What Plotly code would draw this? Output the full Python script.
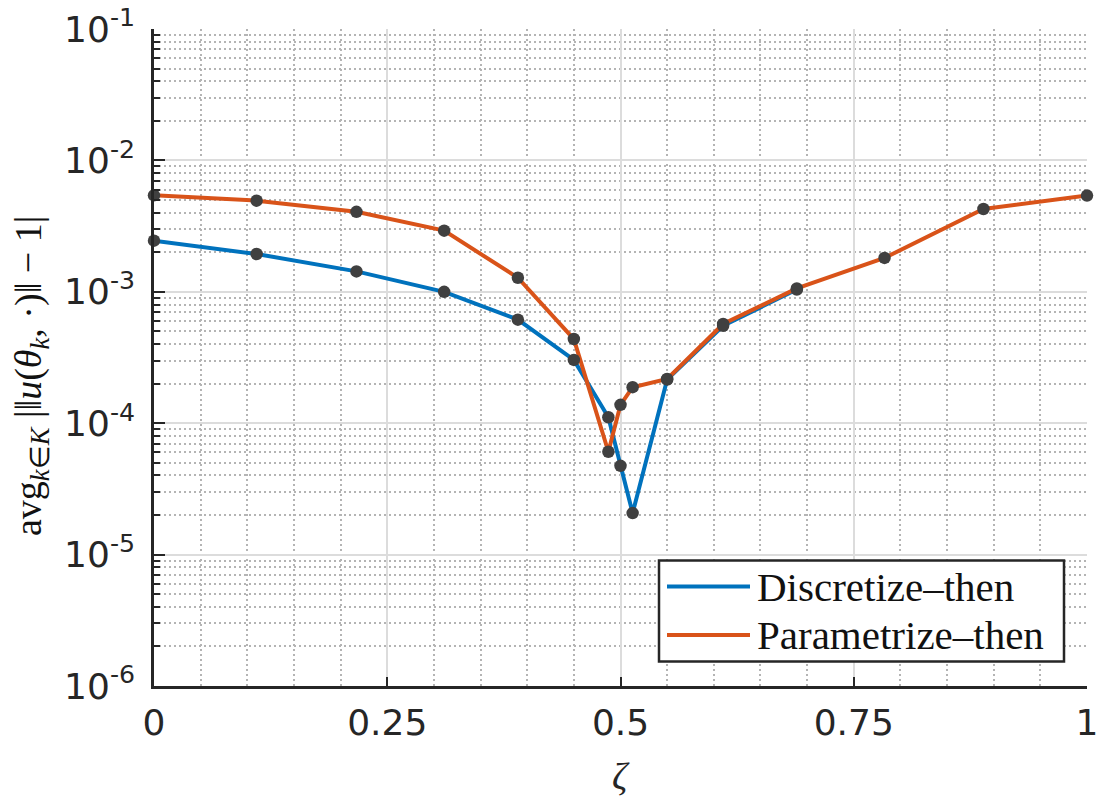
import plotly.graph_objects as go

# ---------------- data ----------------
zeta_discretize = [0.0, 0.110, 0.217, 0.311, 0.390, 0.450, 0.487, 0.500, 0.513, 0.550, 0.610, 0.689]
err_discretize = [2.45e-3, 1.94e-3, 1.43e-3, 1.00e-3, 6.14e-4, 3.03e-4, 1.11e-4, 4.74e-5, 2.07e-5, 2.15e-4, 5.52e-4, 1.04e-3]

zeta_parametrize = [0.0, 0.110, 0.217, 0.311, 0.390, 0.450, 0.487, 0.500, 0.513, 0.550, 0.610, 0.689, 0.783, 0.889, 1.0]
err_parametrize = [5.42e-3, 4.94e-3, 4.06e-3, 2.92e-3, 1.28e-3, 4.37e-4, 6.06e-5, 1.38e-4, 1.88e-4, 2.17e-4, 5.69e-4, 1.06e-3, 1.81e-3, 4.27e-3, 5.40e-3]

series_names = ["Discretize–then", "Parametrize–then"]
x_tickvals = [0, 0.25, 0.5, 0.75, 1]
x_ticktext = ["0", "0.25", "0.5", "0.75", "1"]
y_exponents = [-6, -5, -4, -3, -2, -1]

# ---------------- style ----------------
BLUE = "#0072BD"
ORANGE = "#D95319"
MARK = "#404040"
AX = "#262626"
W, H = 1100, 800
L, R, T, B = 154, 13, 29, 114
PW, PH = W - L - R, H - T - B

def px_x(p):
    return (p - L) / PW

def px_y(p):
    return (H - B - p) / PH

fig = go.Figure()
fig.add_trace(go.Scatter(x=zeta_discretize, y=err_discretize, mode="lines",
                         line=dict(color=BLUE, width=4), showlegend=False, cliponaxis=False))
fig.add_trace(go.Scatter(x=zeta_parametrize, y=err_parametrize, mode="lines",
                         line=dict(color=ORANGE, width=4), showlegend=False, cliponaxis=False))
fig.add_trace(go.Scatter(x=zeta_discretize, y=err_discretize, mode="markers",
                         marker=dict(color=MARK, size=12.5), showlegend=False, cliponaxis=False))
fig.add_trace(go.Scatter(x=zeta_parametrize, y=err_parametrize, mode="markers",
                         marker=dict(color=MARK, size=12.5), showlegend=False, cliponaxis=False))

y_tickvals = [10.0 ** e for e in y_exponents]
y_ticktext = [f"10<sup>{e}</sup>" for e in y_exponents]
y_minor = [k * 10.0 ** e for e in y_exponents[:-1] for k in range(2, 10)]

tickfont = dict(family="DejaVu Sans", size=36, color=AX)

fig.update_xaxes(range=[0, 1], tickvals=x_tickvals, ticktext=x_ticktext,
                 showline=True, linecolor=AX, linewidth=2.5, automargin=False,
                 ticks="inside", ticklen=9, tickwidth=2, tickcolor=AX,
                 showgrid=True, gridcolor="#dcdcdc", gridwidth=2,
                 zeroline=False, tickfont=tickfont, ticklabelstandoff=3,
                 minor=dict(dtick=0.05, tick0=0, showgrid=True, gridcolor="#b4b4b4",
                            gridwidth=1.8, griddash="2px,3px", ticks=""))
fig.update_yaxes(type="log", range=[-6, -1], tickvals=y_tickvals, ticktext=y_ticktext,
                 showline=True, linecolor=AX, linewidth=2.5, automargin=False,
                 ticks="inside", ticklen=11, tickwidth=2, tickcolor=AX,
                 showgrid=True, gridcolor="#dcdcdc", gridwidth=2,
                 zeroline=False, tickfont=tickfont, ticklabelstandoff=9,
                 minor=dict(tickvals=y_minor, showgrid=True, gridcolor="#b4b4b4",
                            gridwidth=1.8, griddash="2px,3px",
                            ticks="inside", ticklen=6, tickwidth=2, tickcolor=AX))

serif = "Liberation Serif"
annotations = [
    dict(text="<i>ζ</i>", x=0.5, y=px_y(776), xref="paper", yref="paper",
         showarrow=False, font=dict(family=serif, size=38, color=AX),
         xanchor="center", yanchor="middle"),
    dict(text="avg<sub><i>k</i>∈<i>K</i></sub> |‖<i>u</i>(<i>θ</i><sub><i>k</i></sub>, ·)‖ − 1|",
         x=px_x(31), y=px_y(376), xref="paper", yref="paper", textangle=-90,
         showarrow=False, font=dict(family=serif, size=38, color="#111111"),
         xanchor="center", yanchor="middle"),
]

# legend drawn manually (long line samples, no markers)
shapes = [dict(type="rect", xref="paper", yref="paper",
               x0=px_x(659), x1=px_x(1064), y0=px_y(661.5), y1=px_y(560.5),
               fillcolor="white", line=dict(color=AX, width=2.5), layer="above")]
rows = [586.5, 635]
for name, col, ry in zip(series_names, [BLUE, ORANGE], rows):
    shapes.append(dict(type="line", xref="paper", yref="paper",
                       x0=px_x(667), x1=px_x(750), y0=px_y(ry), y1=px_y(ry),
                       line=dict(color=col, width=4), layer="above"))
    annotations.append(dict(text=name, x=px_x(755), y=px_y(ry), xref="paper", yref="paper",
                            showarrow=False, xanchor="left", yanchor="middle",
                            font=dict(family=serif, size=41, color="#111111")))

fig.update_layout(width=W, height=H, margin=dict(l=L, r=R, t=T, b=B),
                  paper_bgcolor="white", plot_bgcolor="white",
                  showlegend=False, shapes=shapes, annotations=annotations)

fig.write_html("out.html")
